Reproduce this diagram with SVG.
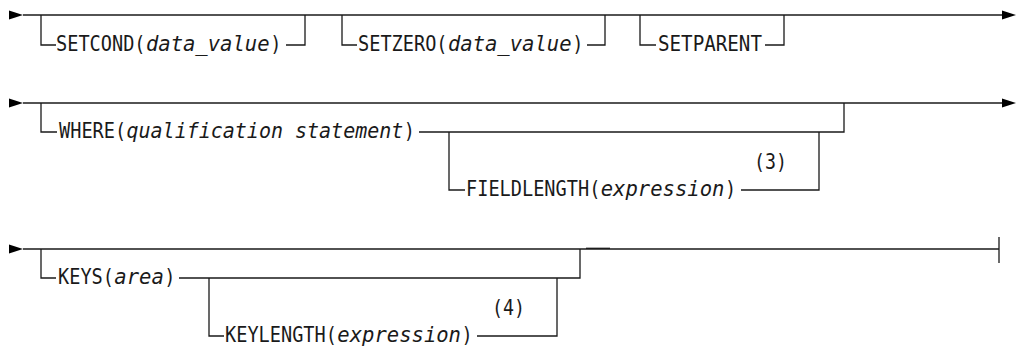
<svg xmlns="http://www.w3.org/2000/svg" width="1017" height="351" viewBox="0 0 1017 351">
<style>
.ln{fill:none;stroke:#1a1a1a;stroke-width:1.3}
.ah{fill:#000}
text{font-family:"DejaVu Sans Mono","Liberation Mono",monospace;font-size:21px;fill:#1a1a1a}
.it{font-style:italic}
</style>
<rect width="1017" height="351" fill="#fff"/>
<g id="connectors">
  <!-- row 1 -->
  <polygon class="ah" points="9,10.5 23,15 9,19.5"/>
  <path class="ln" d="M23,15 H1003"/>
  <polygon class="ah" points="1002,10.5 1016,15 1002,19.5"/>
  <path class="ln" d="M41,15 V45 H56 M286,45 H305 V15"/>
  <path class="ln" d="M342,15 V45 H357 M587,45 H605 V15"/>
  <path class="ln" d="M640,15 V45 H656 M765,45 H784 V15"/>
  <!-- row 2 -->
  <polygon class="ah" points="9,98.5 23,103 9,107.5"/>
  <path class="ln" d="M23,103 H1003"/>
  <polygon class="ah" points="1002,98.5 1016,103 1002,107.5"/>
  <path class="ln" d="M41,103 V132 H57 M419,132 H844 V103"/>
  <path class="ln" d="M449,132 V190 H465 M741,190 H819 V132"/>
  <!-- row 3 -->
  <polygon class="ah" points="9,244.5 23,249 9,253.5"/>
  <path class="ln" d="M23,249 H999 M999,237 V263"/>
  <path class="ln" d="M586,248.3 H610"/>
  <path class="ln" d="M41,249 V278 H56 M179,278 H580 V249"/>
  <path class="ln" d="M209,278 V336 H224 M477,336 H557 V278"/>
</g>
<g id="setcond">
  <text transform="translate(56,51) scale(0.886,1)">SETCOND(</text>
  <text class="it" transform="translate(145.9,51) scale(0.979,1)">data_value</text>
  <text transform="translate(270.2,51) scale(0.886,1)">)</text>
</g>
<g id="setzero">
  <text transform="translate(358,51) scale(0.886,1)">SETZERO(</text>
  <text class="it" transform="translate(447.9,51) scale(0.979,1)">data_value</text>
  <text transform="translate(572.2,51) scale(0.886,1)">)</text>
</g>
<g id="setparent">
  <text transform="translate(658,51) scale(0.914,1)">SETPARENT</text>
</g>
<g id="where">
  <text transform="translate(59,138) scale(0.886,1)">WHERE(</text>
  <text class="it" transform="translate(126.5,138) scale(0.952,1)">qualification statement</text>
  <text transform="translate(403.8,138) scale(0.886,1)">)</text>
</g>
<g id="fieldlength">
  <text transform="translate(466,196) scale(0.886,1)">FIELDLENGTH(</text>
  <text class="it" transform="translate(600.7,196) scale(0.979,1)">expression</text>
  <text transform="translate(725,196) scale(0.886,1)">)</text>
</g>
<g id="note3"><text transform="translate(754,169) scale(0.87,1)">(3)</text></g>
<g id="keys">
  <text transform="translate(58,284) scale(0.886,1)">KEYS(</text>
  <text class="it" transform="translate(114.3,284) scale(0.979,1)">area</text>
  <text transform="translate(164.2,284) scale(0.886,1)">)</text>
</g>
<g id="keylength">
  <text transform="translate(225,342) scale(0.886,1)">KEYLENGTH(</text>
  <text class="it" transform="translate(337.3,342) scale(0.979,1)">expression</text>
  <text transform="translate(461.6,342) scale(0.886,1)">)</text>
</g>
<g id="note4"><text transform="translate(492,315) scale(0.87,1)">(4)</text></g>
</svg>
